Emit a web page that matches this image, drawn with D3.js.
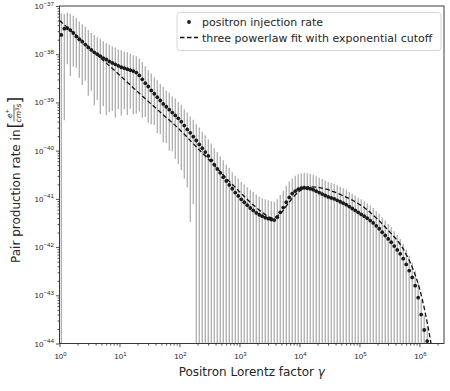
<!DOCTYPE html>
<html><head><meta charset="utf-8">
<script src="https://cdn.jsdelivr.net/npm/d3@7"></script>
<style>body{margin:0;background:#fff;} svg{display:block;font-family:"DejaVu Sans",sans-serif;}</style>
</head><body><svg id="c" width="450" height="391"></svg>
<script>
// ---- data (values stored as log10) ----
const log10Gamma = [0.03,0.08,0.13,0.18,0.23,0.28,0.33,0.38,0.43,0.48,0.53,0.58,0.63,0.68,0.73,0.78,0.83,0.88,0.93,0.98,
1.03,1.08,1.13,1.18,1.23,1.28,1.33,1.38,1.43,1.48,1.53,1.58,1.63,1.68,1.73,1.78,1.83,1.88,1.93,1.98,
2.03,2.08,2.13,2.18,2.23,2.28,2.33,2.38,2.43,2.48,2.53,2.58,2.63,2.68,2.73,2.78,2.83,2.88,2.93,2.98,
3.03,3.08,3.13,3.18,3.23,3.28,3.33,3.38,3.43,3.48,3.53,3.58,3.63,3.68,3.73,3.78,3.83,3.88,3.93,3.98,
4.03,4.08,4.13,4.18,4.23,4.28,4.33,4.38,4.43,4.48,4.53,4.58,4.63,4.68,4.73,4.78,4.83,4.88,4.93,4.98,
5.03,5.08,5.13,5.18,5.23,5.28,5.33,5.38,5.43,5.48,5.53,5.58,5.63,5.68,5.73,5.78,5.83,5.88,5.93,5.98,
6.03,6.08,6.13];
const log10Rate = [-37.60,-37.47,-37.46,-37.50,-37.56,-37.63,-37.69,-37.74,-37.80,-37.86,-37.91,-37.96,-38.00,-38.04,-38.08,-38.11,-38.15,-38.18,-38.21,-38.24,
-38.27,-38.29,-38.31,-38.33,-38.35,-38.38,-38.44,-38.52,-38.60,-38.67,-38.75,-38.82,-38.89,-38.96,-39.03,-39.09,-39.15,-39.21,-39.27,-39.33,
-39.40,-39.48,-39.56,-39.63,-39.71,-39.79,-39.87,-39.95,-40.03,-40.11,-40.20,-40.29,-40.38,-40.46,-40.55,-40.63,-40.71,-40.79,-40.87,-40.94,
-41.01,-41.07,-41.13,-41.19,-41.24,-41.29,-41.33,-41.36,-41.39,-41.41,-41.43,-41.44,-41.38,-41.28,-41.18,-41.07,-40.97,-40.89,-40.84,-40.80,
-40.78,-40.77,-40.78,-40.79,-40.81,-40.84,-40.87,-40.90,-40.93,-40.96,-40.98,-41.00,-41.03,-41.06,-41.09,-41.12,-41.16,-41.20,-41.24,-41.28,
-41.32,-41.36,-41.40,-41.45,-41.50,-41.56,-41.62,-41.69,-41.76,-41.83,-41.90,-41.98,-42.06,-42.14,-42.24,-42.36,-42.49,-42.63,-42.80,-43.05,
-43.40,-43.72,-43.95];
// error bar extents in decades above / below the point (null = reaches below the axis)
const errUpDex = [0.45,0.30,0.32,0.34,0.36,0.38,0.37,0.36,0.37,0.36,0.35,0.36,0.35,0.36,0.35,0.34,0.35,0.34,0.35,0.34,
0.35,0.34,0.35,0.34,0.33,0.34,0.35,0.36,0.35,0.34,0.35,0.34,0.35,0.34,0.35,0.34,0.35,0.34,0.35,0.34,
0.35,0.34,0.35,0.34,0.35,0.34,0.35,0.34,0.35,0.34,0.35,0.34,0.35,0.34,0.35,0.34,0.35,0.34,0.35,0.36,
0.36,0.37,0.37,0.38,0.38,0.38,0.38,0.38,0.38,0.38,0.38,0.38,0.37,0.36,0.35,0.34,0.33,0.32,0.32,0.31,
0.31,0.31,0.31,0.31,0.31,0.31,0.31,0.31,0.31,0.31,0.31,0.31,0.31,0.31,0.31,0.31,0.31,0.31,0.31,0.31,
0.31,0.31,0.31,0.31,0.31,0.31,0.31,0.31,0.31,0.31,0.31,0.31,0.31,0.31,0.31,0.31,0.31,0.31,0.31,0.31,
0.31,0.31,0.31];
const errDownDex = [null,1.9,0.75,0.95,0.7,0.65,0.8,0.9,0.75,1.0,0.85,1.1,0.95,1.2,1.0,1.15,1.05,1.0,1.1,0.9,
1.0,0.85,0.95,0.8,0.9,0.85,0.75,0.8,0.7,0.75,0.7,0.65,0.75,0.7,0.8,0.75,0.85,0.8,0.9,0.95,
1.0,1.1,1.2,1.85,1.4,null,null,null,null,null,null,null,null,null,null,null,null,null,null,null,
null,null,null,null,null,null,null,null,null,null,null,null,null,null,null,null,null,null,null,null,
null,null,null,null,null,null,null,null,null,null,null,null,null,null,null,null,null,null,null,null,
null,null,null,null,null,null,null,null,null,null,null,null,null,null,null,null,null,null,null,null,
null,null,null];
// three powerlaw fit with exponential cutoff
const fitLog10Gamma = [0.00,0.25,0.50,0.75,1.00,1.25,1.50,1.75,2.00,2.25,2.50,2.75,3.00,3.25,3.40,3.50,3.55,3.60,3.70,3.80,3.90,4.00,4.10,4.20,4.30,4.50,4.70,4.90,5.10,5.30,5.50,5.70,5.80,5.90,6.00,6.10,6.20,6.25];
const fitLog10Rate = [-37.30,-37.58,-37.87,-38.15,-38.43,-38.72,-39.00,-39.28,-39.56,-39.88,-40.20,-40.53,-40.85,-41.15,-41.30,-41.38,-41.40,-41.38,-41.28,-41.12,-40.96,-40.84,-40.77,-40.75,-40.76,-40.82,-40.92,-41.04,-41.20,-41.42,-41.68,-41.98,-42.20,-42.48,-42.85,-43.38,-44.05,-44.45];
const xTickExps = [0,1,2,3,4,5,6];
const yTickExps = [-44,-43,-42,-41,-40,-39,-38,-37];
const legendLabels = ["positron injection rate","three powerlaw fit with exponential cutoff"];
const xLabel = "Positron Lorentz factor ";
const yLabel = "Pair production rate in ";

// ---- layout ----
const L = 59.5, R = 444, T = 6, B = 343.5;
const svg = d3.select("#c");
const x = d3.scaleLog().domain([1, Math.pow(10, 6.41)]).range([L, R]);
const y = d3.scaleLog().domain([1e-44, 1e-37]).range([B, T]);
const ink = "#262626";

svg.append("defs").append("clipPath").attr("id","clip")
  .append("rect").attr("x",L).attr("y",T).attr("width",R-L).attr("height",B-T);

const pts = log10Gamma.map((g,i)=>({g:Math.pow(10,g), v:Math.pow(10,log10Rate[i]),
  up:Math.pow(10,log10Rate[i]+errUpDex[i]),
  lo: errDownDex[i]===null ? 1e-50 : Math.pow(10,log10Rate[i]-errDownDex[i])}));

const plot = svg.append("g").attr("clip-path","url(#clip)");
plot.selectAll("line.err").data(pts).join("line").attr("class","err")
  .attr("x1",d=>x(d.g)).attr("x2",d=>x(d.g))
  .attr("y1",d=>y(d.up)).attr("y2",d=>y(Math.max(d.lo,1e-45)))
  .attr("stroke","#a8a8a8").attr("stroke-width",1.2);

const fit = fitLog10Gamma.map((g,i)=>[Math.pow(10,g), Math.pow(10,fitLog10Rate[i])]);
plot.append("path").datum(fit)
  .attr("d", d3.line().x(d=>x(d[0])).y(d=>y(d[1])).curve(d3.curveMonotoneX))
  .attr("fill","none").attr("stroke","#111").attr("stroke-width",1.3).attr("stroke-dasharray","4.5,2.5");

plot.selectAll("circle.pt").data(pts).join("circle").attr("class","pt")
  .attr("cx",d=>x(d.g)).attr("cy",d=>y(d.v)).attr("r",1.9).attr("fill","#1a1a1a");

// ---- axes ----
const xMinor = [], yMinor = [];
for (let e=0;e<=6;e++) for (let m=2;m<=9;m++){ const v=m*Math.pow(10,e); if (v<=x.domain()[1]) xMinor.push(v);}
for (let e=-44;e<-37;e++) for (let m=2;m<=9;m++) yMinor.push(m*Math.pow(10,e));

const gx = svg.append("g").attr("transform",`translate(0,${B})`);
gx.call(d3.axisBottom(x).tickValues(xTickExps.map(e=>Math.pow(10,e))).tickSize(3.5).tickFormat(""));
gx.append("g").call(d3.axisBottom(x).tickValues(xMinor).tickSize(2).tickFormat(""));
gx.selectAll(".domain").remove();
gx.selectAll("line").attr("stroke",ink).attr("stroke-width",0.8);
xTickExps.forEach(e=>{
  const t = gx.append("text").attr("x",x(Math.pow(10,e))+1).attr("y",15.5).attr("text-anchor","middle")
    .attr("fill",ink).style("font-size","8px");
  t.append("tspan").text("10");
  t.append("tspan").attr("dy",-3.5).style("font-size","6px").text(String(e));
});

const gy = svg.append("g").attr("transform",`translate(${L},0)`);
gy.call(d3.axisLeft(y).tickValues(yTickExps.map(e=>Math.pow(10,e))).tickSize(3.5).tickFormat(""));
gy.append("g").call(d3.axisLeft(y).tickValues(yMinor).tickSize(2).tickFormat(""));
gy.selectAll(".domain").remove();
gy.selectAll("line").attr("stroke",ink).attr("stroke-width",0.8);
yTickExps.forEach(e=>{
  const t = gy.append("text").attr("x",-5.5).attr("y",y(Math.pow(10,e))+3).attr("text-anchor","end")
    .attr("fill",ink).style("font-size","8px");
  t.append("tspan").text("10");
  t.append("tspan").attr("dy",-3.5).style("font-size","6.2px").text("\u2212"+String(-e));
});

svg.append("rect").attr("x",L).attr("y",T).attr("width",R-L).attr("height",B-T)
  .attr("fill","none").attr("stroke",ink).attr("stroke-width",0.9);

// x label
const xl = svg.append("text").attr("x",(L+R)/2).attr("y",376).attr("text-anchor","middle")
  .attr("fill",ink).style("font-size","12px");
xl.append("tspan").text(xLabel);
xl.append("tspan").style("font-style","italic").text("\u03b3");

// y label with fraction
const yg = svg.append("g").attr("transform","translate(19.5,263) rotate(-90)");
const yt = yg.append("text").attr("x",0).attr("y",0).attr("fill",ink).style("font-size","12px").text(yLabel);
const w = yt.node().getComputedTextLength();
const bx = w + 1;
yg.append("text").attr("x",bx).attr("y",1.5).attr("fill",ink).style("font-size","17px").text("[");
const fx = bx + 7;
const num = yg.append("text").attr("x",fx+8).attr("y",-8).attr("text-anchor","middle").attr("fill",ink)
  .style("font-size","7.5px").style("font-style","italic");
num.append("tspan").text("e");
num.append("tspan").attr("dy",-2.5).style("font-size","5.5px").style("font-style","normal").text("+");
yg.append("line").attr("x1",fx).attr("x2",fx+17).attr("y1",-5.5).attr("y2",-5.5).attr("stroke",ink).attr("stroke-width",0.7);
const den = yg.append("text").attr("x",fx+8.5).attr("y",1.5).attr("text-anchor","middle").attr("fill",ink)
  .style("font-size","7.5px").style("font-style","italic");
den.append("tspan").text("cm");
den.append("tspan").attr("dy",-2.5).style("font-size","5.5px").style("font-style","normal").text("3");
den.append("tspan").attr("dy",2.5).text("s");
yg.append("text").attr("x",fx+18).attr("y",1.5).attr("fill",ink).style("font-size","17px").text("]");

// legend
const lg = svg.append("g");
lg.append("rect").attr("x",177).attr("y",12.5).attr("width",264).attr("height",38).attr("rx",3)
  .attr("fill","#fff").attr("fill-opacity",0.85).attr("stroke","#d0d0d0").attr("stroke-width",0.9);
lg.append("circle").attr("cx",189).attr("cy",22).attr("r",1.9).attr("fill","#1a1a1a");
lg.append("line").attr("x1",180).attr("x2",198).attr("y1",37.5).attr("y2",37.5)
  .attr("stroke","#111").attr("stroke-width",1.3).attr("stroke-dasharray","4.5,2.5");
legendLabels.forEach((s,i)=>{
  lg.append("text").attr("x",202).attr("y",26+i*15.5).attr("fill",ink).style("font-size","11px").text(s);
});
</script></body></html>
